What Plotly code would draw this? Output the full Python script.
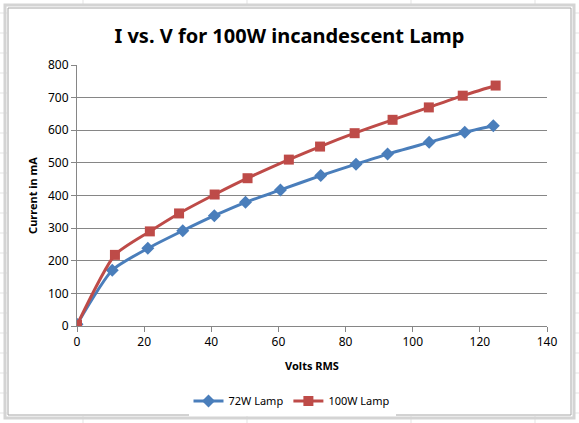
import plotly.graph_objects as go

volts_72 = [0, 10.5, 21.1, 31.5, 40.9, 50.2, 60.6, 72.6, 83.1, 92.5, 104.9, 115.5, 124.0]
current_72 = [5, 171, 238, 292, 338, 379, 417, 461, 496, 527, 563, 594, 614]
volts_100 = [0, 11.3, 21.7, 30.4, 41.0, 50.8, 63.1, 72.4, 82.7, 94.0, 104.8, 114.9, 124.7]
current_100 = [3, 218, 290, 345, 403, 453, 510, 550, 591, 632, 670, 706, 737]

x_ticks = [0, 20, 40, 60, 80, 100, 120, 140]
y_ticks = [0, 100, 200, 300, 400, 500, 600, 700, 800]

FONT = "Noto Sans"
W, H = 579, 423
L, R, T, B = 77, 32, 65, 97
PW, PH = W - L - R, H - T - B

def px(xp):
    return (xp - L) / PW

def py(yp):
    return (H - B - yp) / PH

fig = go.Figure()
fig.add_trace(go.Scatter(
    x=volts_72, y=current_72, name="72W Lamp", mode="lines+markers",
    line=dict(color="#4A7EBB", width=3, shape="spline", smoothing=0.6),
    marker=dict(symbol="diamond", size=10, color="#4A7EBB"),
))
fig.add_trace(go.Scatter(
    x=volts_100, y=current_100, name="100W Lamp", mode="lines+markers",
    line=dict(color="#BE4B48", width=3, shape="spline", smoothing=0.6),
    marker=dict(symbol="square", size=10, color="#BE4B48"),
))

shapes = []
# faint spreadsheet gridlines outside the chart frame
for yy in [13, 33, 53, 73, 93, 113, 133, 153, 173, 193, 213, 233, 253, 273, 293, 313, 333, 353, 373, 393, 413]:
    shapes.append(dict(type="line", xref="paper", yref="paper", x0=px(0), x1=px(7), y0=py(yy), y1=py(yy),
                       line=dict(color="#E3E3E3", width=1), layer="below"))
    shapes.append(dict(type="line", xref="paper", yref="paper", x0=px(573), x1=px(579), y0=py(yy), y1=py(yy),
                       line=dict(color="#E3E3E3", width=1), layer="below"))
for xx in [83, 247, 411, 535]:
    shapes.append(dict(type="line", xref="paper", yref="paper", x0=px(xx), x1=px(xx), y0=py(0), y1=py(6),
                       line=dict(color="#E3E3E3", width=1), layer="below"))
    shapes.append(dict(type="line", xref="paper", yref="paper", x0=px(xx), x1=px(xx), y0=py(416), y1=py(423),
                       line=dict(color="#E3E3E3", width=1), layer="below"))
# chart frame
shapes.append(dict(type="rect", xref="paper", yref="paper", x0=px(5), x1=px(574), y0=py(418), y1=py(5),
                   line=dict(color="#D4D4D4", width=3), layer="below"))
shapes.append(dict(type="rect", xref="paper", yref="paper", x0=px(8), x1=px(571), y0=py(415), y1=py(8),
                   line=dict(color="#A6A6A6", width=1), layer="below"))

fig.update_layout(
    width=W, height=H,
    margin=dict(l=L, r=R, t=T, b=B, autoexpand=False),
    paper_bgcolor="white", plot_bgcolor="white",
    font=dict(family=FONT, size=12, color="black"),
    title=dict(text="<b>I vs. V for 100W incandescent Lamp</b>", x=0.5, xanchor="center",
               y=1 - 36/H, yanchor="middle", font=dict(size=20, family=FONT)),
    xaxis=dict(range=[0, 140], tickvals=x_ticks, showgrid=False, zeroline=False,
               showline=True, linecolor="#868686", linewidth=1, automargin=False,
               ticks="outside", ticklen=5, tickcolor="#868686",
               title=dict(text="<b>Volts RMS</b>", font=dict(size=11), standoff=12)),
    yaxis=dict(range=[0, 800], tickvals=y_ticks, showgrid=True, gridcolor="#868686", gridwidth=1,
               zeroline=False, showline=True, linecolor="#868686", linewidth=1, automargin=False,
               ticks="outside", ticklen=5, tickcolor="#868686",
               title=dict(text="<b>Current in mA</b>", font=dict(size=11), standoff=8)),
    legend=dict(orientation="h", x=px(292), xanchor="center", y=py(401), yanchor="middle",
                font=dict(size=11), itemwidth=30),
    shapes=shapes,
)

fig.write_html("out.html", config={"displayModeBar": False},
               post_script="document.body.style.margin='0';document.body.style.padding='0';")
